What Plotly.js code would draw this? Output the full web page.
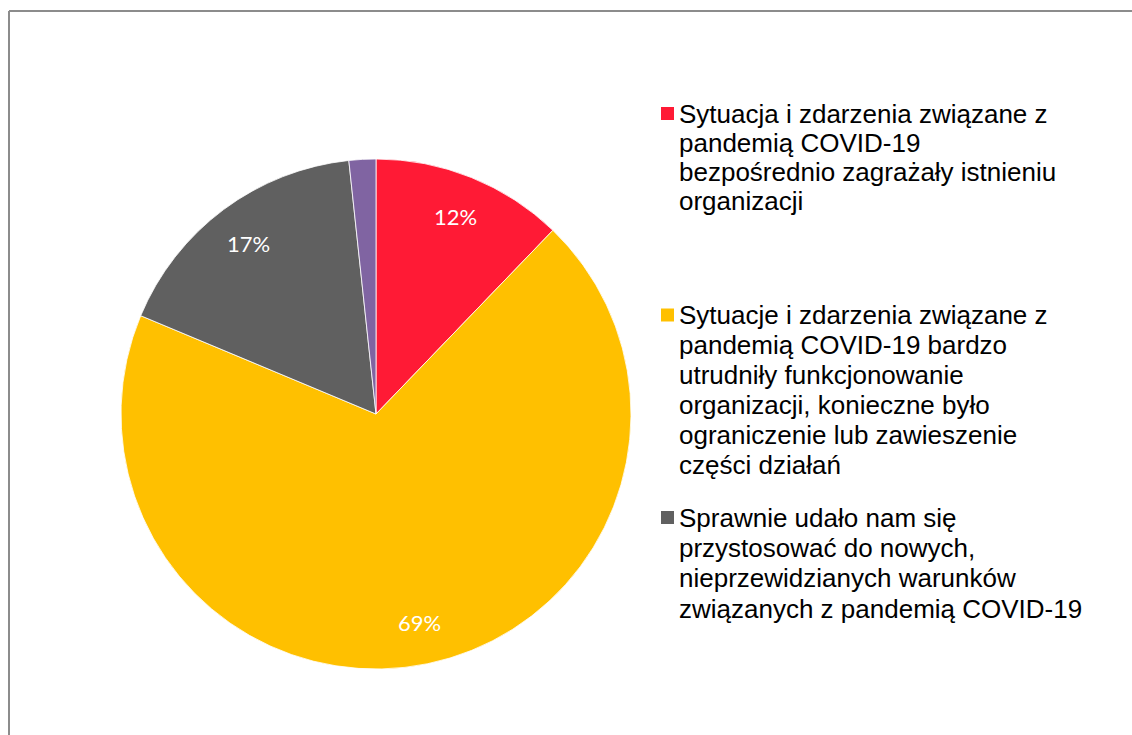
<!DOCTYPE html>
<html>
<head>
<meta charset="utf-8">
<script src="https://cdn.plot.ly/plotly-3.0.1.min.js"></script>
<style>html,body{margin:0;padding:0;background:#fff;}#chart{width:1132px;height:735px;}</style>
</head>
<body>
<div id="chart"></div>
<script>
// ---- data ----
const categories = [
  "Sytuacja i zdarzenia związane z<br>pandemią COVID-19<br>bezpośrednio zagrażały istnieniu<br>organizacji",
  "Sytuacje i zdarzenia związane z<br>pandemią COVID-19 bardzo<br>utrudniły funkcjonowanie<br>organizacji, konieczne było<br>ograniczenie lub zawieszenie<br>części działań",
  "Sprawnie udało nam się<br>przystosować do nowych,<br>nieprzewidzianych warunków<br>związanych z pandemią COVID-19",
  "Trudno powiedzieć"
];
const values = [12.2, 69.1, 17.0, 1.7];
const showLabel = [true, true, true, false];
const legendShown = [true, true, true, false];

// ---- style ----
const colors = ["#FF1A35", "#FFC000", "#606060", "#8064A2"];
const W = 1132, H = 735;
const px = x => x / W, py = y => 1 - y / H;
const cx = 376, cy = 414, R = 255;

const trace = {
  type: "pie",
  labels: categories.map(c => c.replace(/<br>/g, " ")),
  values: values,
  sort: false,
  direction: "clockwise",
  rotation: 0,
  marker: { colors: colors, line: { color: "#ffffff", width: 0.8 } },
  textinfo: "none",
  hoverinfo: "skip",
  domain: { x: [px(cx - R), px(cx + R)], y: [py(cy + R), py(cy - R)] },
  showlegend: false
};

const annotations = [];
const shapes = [];

// percentage labels placed along each slice's bisector (computed from values)
const total = values.reduce((a, b) => a + b, 0);
let cum = 0;
values.forEach((v, i) => {
  const mid = (cum + v / 2) / total;
  cum += v;
  if (!showLabel[i]) return;
  const ang = mid * 2 * Math.PI;
  const d = 0.835 * R;
  const x = cx + d * Math.sin(ang), y = cy - d * Math.cos(ang);
  annotations.push({
    xref: "paper", yref: "paper", x: px(x), y: py(y),
    xanchor: "center", yanchor: "middle", showarrow: false,
    text: Math.round(v / total * 100) + "%",
    font: { family: "Lato, 'Open Sans', sans-serif", size: 22, color: "#ffffff" }
  });
});

// custom legend (wrapped text as in original)
const baselines = [122.5, 324, 526.5];
const gaps = [29.3, 30, 30.4];
let k = 0;
categories.forEach((c, i) => {
  if (!legendShown[i]) return;
  const b = baselines[k], gap = gaps[k];
  k++;
  shapes.push({
    type: "rect", xref: "paper", yref: "paper",
    x0: px(661), x1: px(674), y0: py(b - 2.5), y1: py(b - 15.5),
    fillcolor: colors[i], line: { width: 0 }
  });
  c.split("<br>").forEach((line, j) => {
    annotations.push({
      xref: "paper", yref: "paper",
      x: px(677), y: py(b + j * gap - 9),
      xanchor: "left", yanchor: "middle",
      text: line, showarrow: false, align: "left",
      font: { family: "'Liberation Sans', Arial, sans-serif", size: 26, color: "#000000" }
    });
  });
});

// chart area frame (cropped)
shapes.push({ type: "line", xref: "paper", yref: "paper", x0: px(9), x1: px(9), y0: 0, y1: py(11), line: { color: "#8c8c8c", width: 2 } });
shapes.push({ type: "line", xref: "paper", yref: "paper", x0: px(9), x1: 1, y0: py(11), y1: py(11), line: { color: "#8c8c8c", width: 2 } });

const layout = {
  width: W, height: H,
  margin: { l: 0, r: 0, t: 0, b: 0 },
  paper_bgcolor: "#ffffff",
  showlegend: false,
  annotations: annotations,
  shapes: shapes
};

Plotly.newPlot("chart", [trace], layout, { staticPlot: true, displayModeBar: false });
</script>
</body>
</html>
